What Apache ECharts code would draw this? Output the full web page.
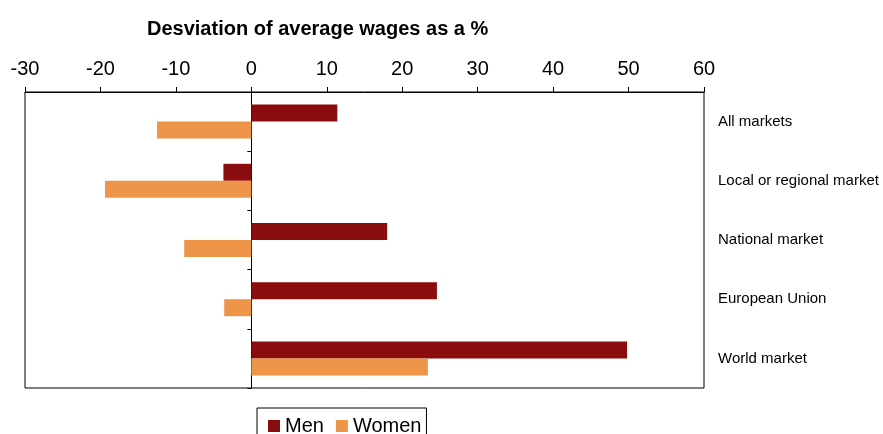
<!DOCTYPE html>
<html>
<head>
<meta charset="utf-8">
<script src="https://cdn.jsdelivr.net/npm/echarts@6/dist/echarts.min.js"></script>
<style>html,body{margin:0;padding:0;background:#fff;}#c{width:883px;height:434px;}</style>
</head>
<body>
<div id="c"></div>
<script>
const categories = ['All markets', 'Local or regional market', 'National market', 'European Union', 'World market'];
const menValues = [11.4, -3.7, 18.0, 24.6, 49.8];
const womenValues = [-12.5, -19.4, -8.9, -3.6, 23.4];
const xTicks = { min: -30, max: 60, interval: 10 };
const titleText = 'Desviation of average wages as a %';

const FONT = '"Liberation Sans", Arial, sans-serif';
const chart = echarts.init(document.getElementById('c'), null, { renderer: 'canvas' });
chart.setOption({
  animation: false,
  textStyle: { fontFamily: FONT },
  title: {
    text: titleText,
    left: 142, top: 14,
    textStyle: { fontFamily: FONT, fontSize: 20, fontWeight: 'bold', color: '#000' }
  },
  legend: {
    data: ['Men', 'Women'],
    left: 257, top: 408,
    borderColor: '#000', borderWidth: 1,
    padding: [8, 5, 6, 11],
    icon: 'rect', itemWidth: 12, itemHeight: 12, itemGap: 12,
    textStyle: { fontFamily: FONT, fontSize: 20, color: '#000' }
  },
  grid: {
    left: 25, right: 179, top: 92, bottom: 46,
    show: true, borderColor: '#000', borderWidth: 1, backgroundColor: 'transparent'
  },
  xAxis: {
    type: 'value', position: 'top',
    min: xTicks.min, max: xTicks.max, interval: xTicks.interval,
    axisLine: { show: true, lineStyle: { color: '#000', width: 1 } },
    axisTick: { show: true, length: 5, lineStyle: { color: '#000' } },
    axisLabel: { fontFamily: FONT, fontSize: 20, color: '#000', margin: 13 },
    splitLine: { show: false }
  },
  yAxis: [
    {
      type: 'category', data: categories, inverse: true,
      axisLine: { show: true, onZero: true, lineStyle: { color: '#000', width: 1 } },
      axisTick: { show: true, length: 4, alignWithLabel: false, lineStyle: { color: '#000' } },
      axisLabel: { show: false },
      splitLine: { show: false }
    },
    {
      type: 'category', data: categories, inverse: true, position: 'right',
      axisLine: { show: false, onZero: false },
      axisTick: { show: false },
      axisLabel: { show: true, fontFamily: FONT, fontSize: 15, color: '#000', align: 'left', margin: 14, padding: [7, 0, 0, 0] },
      splitLine: { show: false }
    }
  ],
  series: [
    {
      name: 'Men', type: 'bar', data: menValues, yAxisIndex: 0,
      barWidth: 17, barGap: '0%',
      itemStyle: { color: '#8B0C0C' }
    },
    {
      name: 'Women', type: 'bar', data: womenValues, yAxisIndex: 0,
      barWidth: 17, barGap: '0%',
      itemStyle: { color: '#EE954A' }
    }
  ]
});
</script>
</body>
</html>
